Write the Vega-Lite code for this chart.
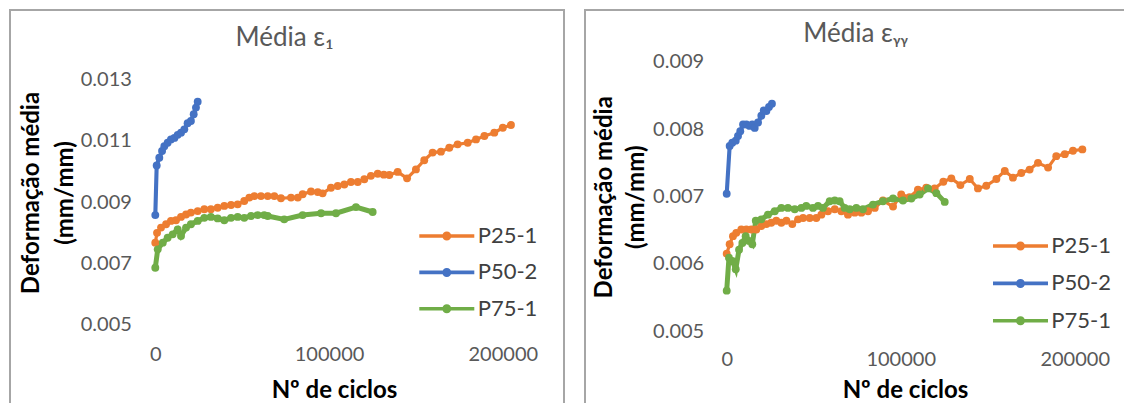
{
  "$schema": "https://vega.github.io/schema/vega-lite/v6.json",
  "background": "white",
  "padding": {"left": 9, "top": 9, "right": 0, "bottom": 0},
  "spacing": 19,
  "datasets": {
    "gridL": [{"y": 0.005}, {"y": 0.007}, {"y": 0.009}, {"y": 0.011}, {"y": 0.013}],
    "gridR": [{"y": 0.005}, {"y": 0.006}, {"y": 0.007}, {"y": 0.008}, {"y": 0.009}],
    "e1": [
      {"s": "P25-1", "x": 0, "y": 0.00768}, {"s": "P25-1", "x": 1000, "y": 0.008}, {"s": "P25-1", "x": 3300, "y": 0.00817}, {"s": "P25-1", "x": 6200, "y": 0.00828}, {"s": "P25-1", "x": 9000, "y": 0.00839}, {"s": "P25-1", "x": 11900, "y": 0.00841}, {"s": "P25-1", "x": 14800, "y": 0.00852}, {"s": "P25-1", "x": 17700, "y": 0.0086}, {"s": "P25-1", "x": 20500, "y": 0.00866}, {"s": "P25-1", "x": 24400, "y": 0.00871}, {"s": "P25-1", "x": 28200, "y": 0.00877}, {"s": "P25-1", "x": 32000, "y": 0.00877}, {"s": "P25-1", "x": 35900, "y": 0.00882}, {"s": "P25-1", "x": 39700, "y": 0.00888}, {"s": "P25-1", "x": 43600, "y": 0.00891}, {"s": "P25-1", "x": 47400, "y": 0.00893}, {"s": "P25-1", "x": 51200, "y": 0.00904}, {"s": "P25-1", "x": 54100, "y": 0.00915}, {"s": "P25-1", "x": 57000, "y": 0.0092}, {"s": "P25-1", "x": 60800, "y": 0.0092}, {"s": "P25-1", "x": 64700, "y": 0.0092}, {"s": "P25-1", "x": 68500, "y": 0.0092}, {"s": "P25-1", "x": 72300, "y": 0.00913}, {"s": "P25-1", "x": 78100, "y": 0.00915}, {"s": "P25-1", "x": 82000, "y": 0.00915}, {"s": "P25-1", "x": 84800, "y": 0.00926}, {"s": "P25-1", "x": 89600, "y": 0.00935}, {"s": "P25-1", "x": 93500, "y": 0.00933}, {"s": "P25-1", "x": 96300, "y": 0.00929}, {"s": "P25-1", "x": 101100, "y": 0.00947}, {"s": "P25-1", "x": 105000, "y": 0.00953}, {"s": "P25-1", "x": 108800, "y": 0.00958}, {"s": "P25-1", "x": 112600, "y": 0.00966}, {"s": "P25-1", "x": 116500, "y": 0.00966}, {"s": "P25-1", "x": 120300, "y": 0.00975}, {"s": "P25-1", "x": 124100, "y": 0.00986}, {"s": "P25-1", "x": 128000, "y": 0.00993}, {"s": "P25-1", "x": 131500, "y": 0.0099}, {"s": "P25-1", "x": 134700, "y": 0.00989}, {"s": "P25-1", "x": 139500, "y": 0.00999}, {"s": "P25-1", "x": 144900, "y": 0.00978}, {"s": "P25-1", "x": 150000, "y": 0.01007}, {"s": "P25-1", "x": 154800, "y": 0.01037}, {"s": "P25-1", "x": 159600, "y": 0.01062}, {"s": "P25-1", "x": 164400, "y": 0.01065}, {"s": "P25-1", "x": 169200, "y": 0.01078}, {"s": "P25-1", "x": 174000, "y": 0.01089}, {"s": "P25-1", "x": 179800, "y": 0.01094}, {"s": "P25-1", "x": 184600, "y": 0.01105}, {"s": "P25-1", "x": 189400, "y": 0.01116}, {"s": "P25-1", "x": 195100, "y": 0.01127}, {"s": "P25-1", "x": 200000, "y": 0.01143}, {"s": "P25-1", "x": 204700, "y": 0.01152},
      {"s": "P50-2", "x": 0, "y": 0.00858}, {"s": "P50-2", "x": 800, "y": 0.0102}, {"s": "P50-2", "x": 2300, "y": 0.01045}, {"s": "P50-2", "x": 3900, "y": 0.01067}, {"s": "P50-2", "x": 5200, "y": 0.01083}, {"s": "P50-2", "x": 7100, "y": 0.01094}, {"s": "P50-2", "x": 9000, "y": 0.01105}, {"s": "P50-2", "x": 11000, "y": 0.0111}, {"s": "P50-2", "x": 12900, "y": 0.0112}, {"s": "P50-2", "x": 14800, "y": 0.01127}, {"s": "P50-2", "x": 16700, "y": 0.01138}, {"s": "P50-2", "x": 18600, "y": 0.01158}, {"s": "P50-2", "x": 20500, "y": 0.01165}, {"s": "P50-2", "x": 22100, "y": 0.01187}, {"s": "P50-2", "x": 23400, "y": 0.01209}, {"s": "P50-2", "x": 24400, "y": 0.01228},
      {"s": "P75-1", "x": 0, "y": 0.00686}, {"s": "P75-1", "x": 1400, "y": 0.00746}, {"s": "P75-1", "x": 4300, "y": 0.00768}, {"s": "P75-1", "x": 7100, "y": 0.00784}, {"s": "P75-1", "x": 10000, "y": 0.00795}, {"s": "P75-1", "x": 12900, "y": 0.00811}, {"s": "P75-1", "x": 14800, "y": 0.0079}, {"s": "P75-1", "x": 17700, "y": 0.00817}, {"s": "P75-1", "x": 20500, "y": 0.00828}, {"s": "P75-1", "x": 24400, "y": 0.00839}, {"s": "P75-1", "x": 28200, "y": 0.00849}, {"s": "P75-1", "x": 32000, "y": 0.00852}, {"s": "P75-1", "x": 35900, "y": 0.00847}, {"s": "P75-1", "x": 39700, "y": 0.00841}, {"s": "P75-1", "x": 43600, "y": 0.00849}, {"s": "P75-1", "x": 47400, "y": 0.00852}, {"s": "P75-1", "x": 51200, "y": 0.00849}, {"s": "P75-1", "x": 55100, "y": 0.00855}, {"s": "P75-1", "x": 58900, "y": 0.00858}, {"s": "P75-1", "x": 62700, "y": 0.00858}, {"s": "P75-1", "x": 64700, "y": 0.00855}, {"s": "P75-1", "x": 74200, "y": 0.00844}, {"s": "P75-1", "x": 84800, "y": 0.00858}, {"s": "P75-1", "x": 95400, "y": 0.00864}, {"s": "P75-1", "x": 104000, "y": 0.00864}, {"s": "P75-1", "x": 115500, "y": 0.00884}, {"s": "P75-1", "x": 125100, "y": 0.00868}
    ],
    "eyy": [
      {"s": "P25-1", "x": 0, "y": 0.00615}, {"s": "P25-1", "x": 1700, "y": 0.00629}, {"s": "P25-1", "x": 3600, "y": 0.00641}, {"s": "P25-1", "x": 5500, "y": 0.00646}, {"s": "P25-1", "x": 8400, "y": 0.00651}, {"s": "P25-1", "x": 11300, "y": 0.00651}, {"s": "P25-1", "x": 14100, "y": 0.00651}, {"s": "P25-1", "x": 17000, "y": 0.00651}, {"s": "P25-1", "x": 19900, "y": 0.00656}, {"s": "P25-1", "x": 22800, "y": 0.00659}, {"s": "P25-1", "x": 25600, "y": 0.00661}, {"s": "P25-1", "x": 28500, "y": 0.00664}, {"s": "P25-1", "x": 31400, "y": 0.00661}, {"s": "P25-1", "x": 34300, "y": 0.00664}, {"s": "P25-1", "x": 37700, "y": 0.00659}, {"s": "P25-1", "x": 41000, "y": 0.00666}, {"s": "P25-1", "x": 43900, "y": 0.00668}, {"s": "P25-1", "x": 47700, "y": 0.00668}, {"s": "P25-1", "x": 51500, "y": 0.00668}, {"s": "P25-1", "x": 54400, "y": 0.00673}, {"s": "P25-1", "x": 58200, "y": 0.00678}, {"s": "P25-1", "x": 62100, "y": 0.00681}, {"s": "P25-1", "x": 65900, "y": 0.00678}, {"s": "P25-1", "x": 69700, "y": 0.00673}, {"s": "P25-1", "x": 73600, "y": 0.00676}, {"s": "P25-1", "x": 77400, "y": 0.00676}, {"s": "P25-1", "x": 81200, "y": 0.00678}, {"s": "P25-1", "x": 85100, "y": 0.00683}, {"s": "P25-1", "x": 89800, "y": 0.00694}, {"s": "P25-1", "x": 95600, "y": 0.00685}, {"s": "P25-1", "x": 100300, "y": 0.00703}, {"s": "P25-1", "x": 105100, "y": 0.00699}, {"s": "P25-1", "x": 109900, "y": 0.0071}, {"s": "P25-1", "x": 114700, "y": 0.00713}, {"s": "P25-1", "x": 119500, "y": 0.00712}, {"s": "P25-1", "x": 124500, "y": 0.00722}, {"s": "P25-1", "x": 129100, "y": 0.00727}, {"s": "P25-1", "x": 134300, "y": 0.00717}, {"s": "P25-1", "x": 139700, "y": 0.00726}, {"s": "P25-1", "x": 144400, "y": 0.00712}, {"s": "P25-1", "x": 149200, "y": 0.00716}, {"s": "P25-1", "x": 155000, "y": 0.00726}, {"s": "P25-1", "x": 159800, "y": 0.00738}, {"s": "P25-1", "x": 164500, "y": 0.00728}, {"s": "P25-1", "x": 169300, "y": 0.00735}, {"s": "P25-1", "x": 174100, "y": 0.0074}, {"s": "P25-1", "x": 178900, "y": 0.0075}, {"s": "P25-1", "x": 184700, "y": 0.00743}, {"s": "P25-1", "x": 189400, "y": 0.0076}, {"s": "P25-1", "x": 194300, "y": 0.00763}, {"s": "P25-1", "x": 199000, "y": 0.00768}, {"s": "P25-1", "x": 204400, "y": 0.0077},
      {"s": "P50-2", "x": 0, "y": 0.00704}, {"s": "P50-2", "x": 1700, "y": 0.00775}, {"s": "P50-2", "x": 3200, "y": 0.0078}, {"s": "P50-2", "x": 5200, "y": 0.00783}, {"s": "P50-2", "x": 6500, "y": 0.0079}, {"s": "P50-2", "x": 7800, "y": 0.00797}, {"s": "P50-2", "x": 9400, "y": 0.00807}, {"s": "P50-2", "x": 11300, "y": 0.00807}, {"s": "P50-2", "x": 13200, "y": 0.00805}, {"s": "P50-2", "x": 14700, "y": 0.00807}, {"s": "P50-2", "x": 16100, "y": 0.00802}, {"s": "P50-2", "x": 18000, "y": 0.0081}, {"s": "P50-2", "x": 19900, "y": 0.0082}, {"s": "P50-2", "x": 21300, "y": 0.00828}, {"s": "P50-2", "x": 22800, "y": 0.00827}, {"s": "P50-2", "x": 24300, "y": 0.00833}, {"s": "P50-2", "x": 26000, "y": 0.00838},
      {"s": "P75-1", "x": 0, "y": 0.0056}, {"s": "P75-1", "x": 1300, "y": 0.00609}, {"s": "P75-1", "x": 3200, "y": 0.00604}, {"s": "P75-1", "x": 5200, "y": 0.00592}, {"s": "P75-1", "x": 7100, "y": 0.00621}, {"s": "P75-1", "x": 9000, "y": 0.00631}, {"s": "P75-1", "x": 10900, "y": 0.00641}, {"s": "P75-1", "x": 12800, "y": 0.00634}, {"s": "P75-1", "x": 14700, "y": 0.00629}, {"s": "P75-1", "x": 16700, "y": 0.00664}, {"s": "P75-1", "x": 19900, "y": 0.00666}, {"s": "P75-1", "x": 23700, "y": 0.00673}, {"s": "P75-1", "x": 27600, "y": 0.00678}, {"s": "P75-1", "x": 31400, "y": 0.00683}, {"s": "P75-1", "x": 35200, "y": 0.00683}, {"s": "P75-1", "x": 39100, "y": 0.00681}, {"s": "P75-1", "x": 42900, "y": 0.00683}, {"s": "P75-1", "x": 45700, "y": 0.00686}, {"s": "P75-1", "x": 49600, "y": 0.00683}, {"s": "P75-1", "x": 52500, "y": 0.00686}, {"s": "P75-1", "x": 55300, "y": 0.00683}, {"s": "P75-1", "x": 59200, "y": 0.00693}, {"s": "P75-1", "x": 62100, "y": 0.00694}, {"s": "P75-1", "x": 64900, "y": 0.00693}, {"s": "P75-1", "x": 67800, "y": 0.00683}, {"s": "P75-1", "x": 70700, "y": 0.00681}, {"s": "P75-1", "x": 74500, "y": 0.00683}, {"s": "P75-1", "x": 78300, "y": 0.00681}, {"s": "P75-1", "x": 84100, "y": 0.00688}, {"s": "P75-1", "x": 89800, "y": 0.00693}, {"s": "P75-1", "x": 95600, "y": 0.00697}, {"s": "P75-1", "x": 101300, "y": 0.00694}, {"s": "P75-1", "x": 106100, "y": 0.00697}, {"s": "P75-1", "x": 110900, "y": 0.00703}, {"s": "P75-1", "x": 115700, "y": 0.00712}, {"s": "P75-1", "x": 120500, "y": 0.00705}, {"s": "P75-1", "x": 125300, "y": 0.00692}
    ]
  },
  "hconcat": [
    {
      "width": 554,
      "height": 400,
      "title": {"text": "Média ε₁", "offset": -61.7, "baseline": "alphabetic", "anchor": "middle", "dx": -2.4},
      "encoding": {
        "x": {"field": "x", "type": "quantitative",
          "scale": {"domain": [-83626, 235223], "nice": false, "zero": false},
          "axis": {"values": [0, 100000, 200000], "format": "d", "offset": -66, "title": "Nº de ciclos", "titleX": 324, "titleY": 53}},
        "y": {"field": "y", "type": "quantitative",
          "scale": {"domain": [0.002215, 0.015276], "nice": false, "zero": false},
          "axis": {"values": [0.005, 0.007, 0.009, 0.011, 0.013], "format": ".3f", "offset": -121.4, "title": ["Deformação  média", "(mm/mm)"], "titleX": -100.2, "titleY": 182.5, "titleLineHeight": 34}}
      },
      "layer": [
        {"data": {"name": "gridL"}, "mark": {"type": "rule", "color": "#d9d9d9", "strokeWidth": 1.5},
          "encoding": {"x": {"datum": 0}, "x2": {"datum": 206000}}},
        {"data": {"name": "e1"}, "mark": {"type": "line", "point": {"filled": true, "size": 62}},
          "encoding": {
            "color": {"field": "s", "type": "nominal",
              "scale": {"domain": ["P25-1", "P50-2", "P75-1"], "range": ["#ED7D31", "#4472C4", "#70AD47"]},
              "legend": {"orient": "none", "legendX": 418.8, "legendY": 208, "labelOffset": 12.9, "rowPadding": 7.4}},
            "strokeWidth": {"field": "s", "type": "nominal",
              "scale": {"domain": ["P25-1", "P50-2", "P75-1"], "range": [3.2, 5, 3.2]}, "legend": null}
          }}
      ]
    },
    {
      "width": 554,
      "height": 400,
      "title": {"text": "Média εᵧᵧ", "offset": -58.3, "baseline": "alphabetic", "anchor": "middle", "dx": -6.4},
      "encoding": {
        "x": {"field": "x", "type": "quantitative",
          "scale": {"domain": [-81437, 236954], "nice": false, "zero": false},
          "axis": {"values": [0, 100000, 200000], "format": "d", "offset": -60.3, "title": "Nº de ciclos", "titleX": 320, "titleY": 47.3}},
        "y": {"field": "y", "type": "quantitative",
          "scale": {"domain": [0.0038253, 0.0097732], "nice": false, "zero": false},
          "axis": {"values": [0.005, 0.006, 0.007, 0.008, 0.009], "format": ".3f", "offset": -118.7, "title": ["Deformação  média", "(mm/mm)"], "titleX": -99.2, "titleY": 186.8, "titleLineHeight": 32}}
      },
      "layer": [
        {"data": {"name": "gridR"}, "mark": {"type": "rule", "color": "#d9d9d9", "strokeWidth": 1.5},
          "encoding": {"x": {"datum": 0}, "x2": {"datum": 205500}}},
        {"data": {"name": "eyy"}, "mark": {"type": "line", "point": {"filled": true, "size": 62}},
          "encoding": {
            "color": {"field": "s", "type": "nominal",
              "scale": {"domain": ["P25-1", "P50-2", "P75-1"], "range": ["#ED7D31", "#4472C4", "#70AD47"]},
              "legend": {"orient": "none", "legendX": 417.5, "legendY": 218, "labelOffset": 12.8, "rowPadding": 8.4}},
            "strokeWidth": {"field": "s", "type": "nominal",
              "scale": {"domain": ["P25-1", "P50-2", "P75-1"], "range": [3.2, 5, 3.2]}, "legend": null}
          }}
      ]
    }
  ],
  "resolve": {"scale": {"color": "shared", "strokeWidth": "shared"}, "legend": {"color": "independent"}},
  "config": {
    "font": "Lato",
    "view": {"stroke": "#a6a6a6", "strokeWidth": 2},
    "title": {"font": "Lato", "fontSize": 26, "fontWeight": "normal", "color": "#595959"},
    "axis": {
      "grid": false, "domain": false, "ticks": false, "tickSize": 0, "labelPadding": 0,
      "labelFont": "Lato", "labelFontSize": 20, "labelColor": "#595959",
      "labelFlush": false, "labelOverlap": false,
      "titleFont": "Lato", "titleFontSize": 24, "titleFontWeight": "bold", "titleColor": "#000000",
      "titlePadding": 0
    },
    "axisX": {"titleBaseline": "alphabetic", "titleAlign": "center", "titleAngle": 0},
    "axisY": {"titleBaseline": "middle", "titleAlign": "center", "titleAngle": -90},
    "legend": {
      "title": null, "padding": 0, "offset": 0,
      "symbolType": "M-1.528,-0.1H1.528V0.1H-1.528Z M-0.25,0A0.25,0.25 0 1,1 0.25,0A0.25,0.25 0 1,1 -0.25,0Z",
      "symbolSize": 1296, "symbolStrokeWidth": 0,
      "labelFont": "Lato", "labelFontSize": 22, "labelColor": "#404040",
      "encode": {"symbols": {"update": {
        "fill": {"scale": "color", "field": "value"},
        "stroke": {"scale": "color", "field": "value"},
        "strokeWidth": {"signal": "datum.value === 'P50-2' ? 2.5 : 0"},
        "opacity": {"value": 1}
      }}}
    }
  }
}
